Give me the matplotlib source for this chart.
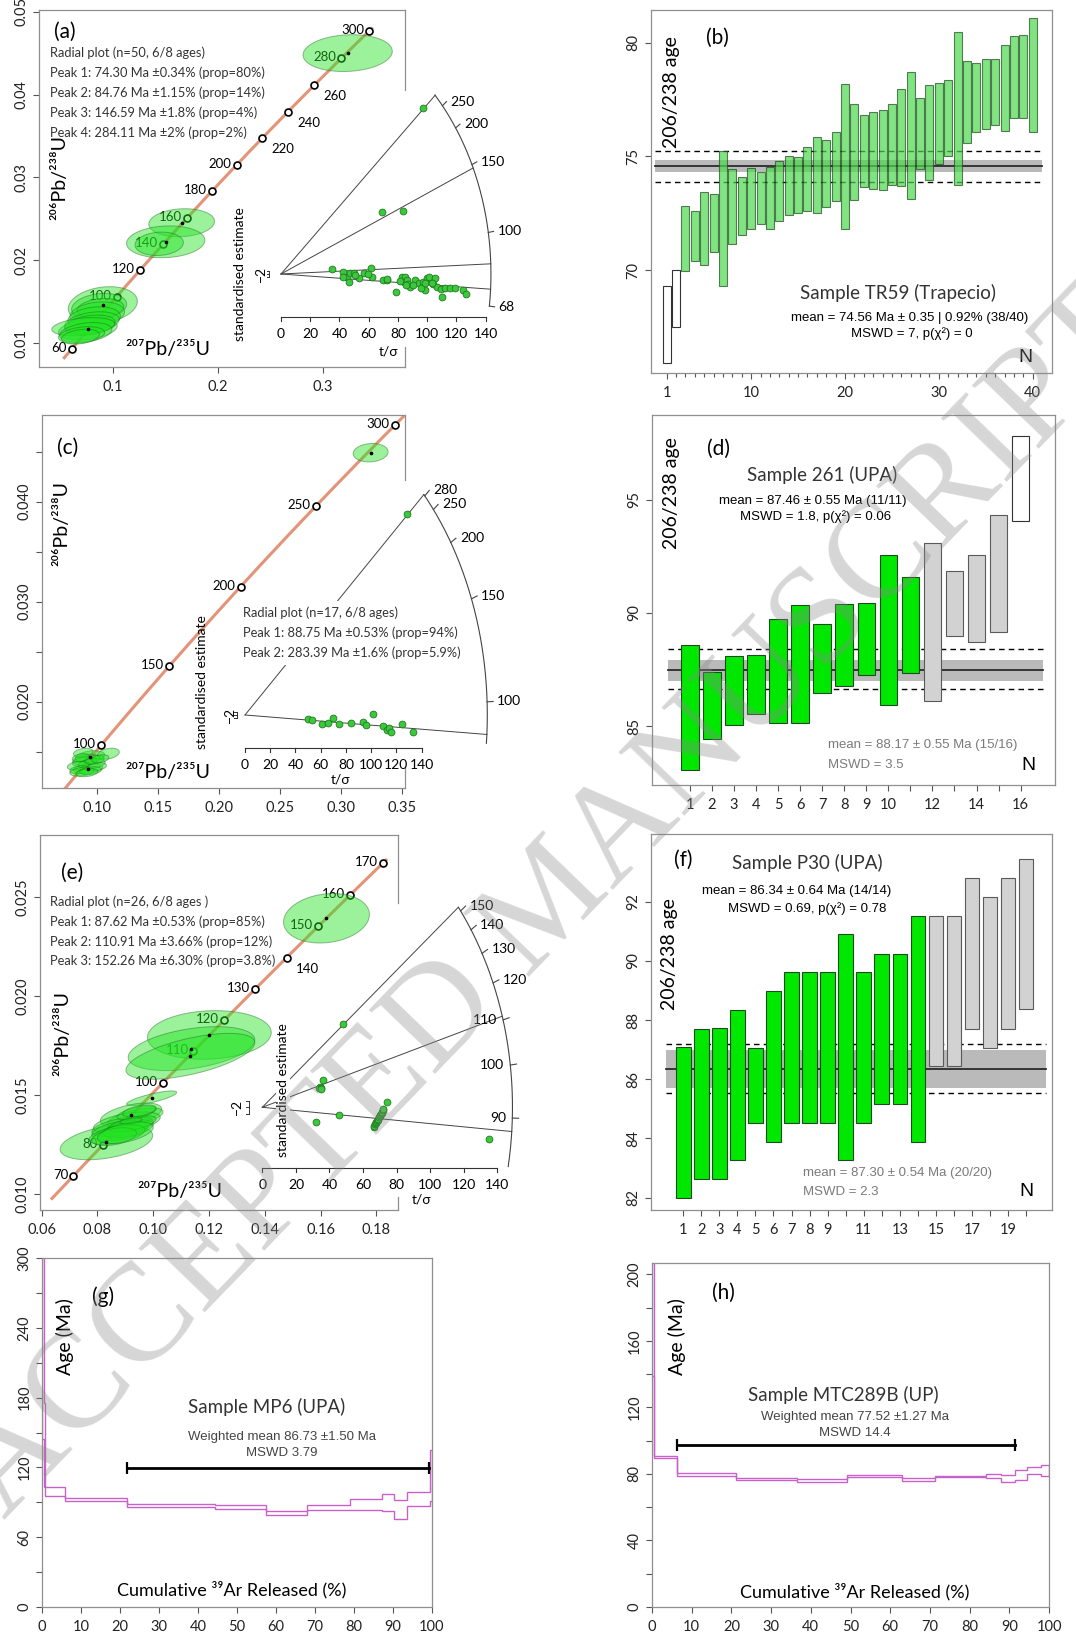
import numpy as np
import matplotlib
matplotlib.use("Agg")
import matplotlib.pyplot as plt
from matplotlib.patches import Polygon

plt.rcParams['font.family'] = ['Lato', 'DejaVu Sans']
ARIAL = ['Liberation Sans', 'DejaVu Sans']
SERIF = ['Liberation Serif', 'DejaVu Serif']

W, H = 1076, 1639

SPINE = '#8f8f8f'
TICK = '#555555'
CONC = '#e39478'
ELL_FC = '#22e422'
ELL_EC = '#1f6b1f'
DOT_FC = '#3cc83c'
DOT_EC = '#1f7a1f'
SPEC = '#c862c8'

# decay constants, 1/Ma
L238 = 1.55125e-4
L235 = 9.8485e-4

# ---------------- (a) TR59 concordia / radial ----------------
a_ages = [60, 100, 120, 140, 160, 180, 200, 220, 240, 260, 280, 300]
a_side = ['l', 'l', 'l', 'l', 'l', 'l', 'l', 'r', 'r', 'r', 'l', 'l']
# ellipses: x, y, half-width x, half-height y, rho
a_ell = [(0.3235, 0.04500, 0.0425, 0.00222, 0.10),
         (0.1654, 0.02454, 0.0313, 0.00169, 0.10),
         (0.1502, 0.02224, 0.0373, 0.00192, 0.10),
         (0.0903, 0.01462, 0.0329, 0.00221, 0.20),
         (0.0760, 0.01170, 0.0280, 0.00130, 0.30),
         (0.1440, 0.02200, 0.0230, 0.00141, 0.10),
         (0.0868, 0.01441, 0.0262, 0.00161, 0.20),
         (0.0880, 0.01420, 0.0222, 0.00120, 0.20),
         (0.0850, 0.01350, 0.0260, 0.00150, 0.20),
         (0.0820, 0.01300, 0.0250, 0.00140, 0.20),
         (0.0800, 0.01250, 0.0260, 0.00130, 0.30),
         (0.0780, 0.01220, 0.0240, 0.00120, 0.30),
         (0.0717, 0.01200, 0.0300, 0.00110, 0.30),
         (0.0740, 0.01130, 0.0250, 0.00120, 0.30),
         (0.0700, 0.01100, 0.0220, 0.00100, 0.30),
         (0.0690, 0.01080, 0.0180, 0.00090, 0.30)]
a_peaks = [74.30, 84.76, 146.59, 284.11]
a_arc_ticks = [68, 100, 150, 200, 250]
a_rx = [34.7, 42.6, 45.4, 46.7, 47.2, 50.2, 53.6, 56.8, 61.3, 62.5,
        70.0, 72.3, 69.3, 83.7, 97.4, 78.4, 82.5, 84.8, 84.1, 86.0,
        87.1, 88.2, 91.7, 94.6, 97.4, 98.5, 99.6, 101.5, 104.2, 105.3,
        106.5, 109.2, 109.9, 112.2, 115.6, 119.0, 124.7, 126.5, 81.4, 85.5,
        90.5, 95.5, 98.5, 103.1, 42.6, 50.6, 59.7, 72.3]
a_ry = [3.5, 1.7, -2.5, -5.7, 1.0, 1.0, -3.2, 1.0, 4.5, -2.0,
        -4.5, -4.5, 46.4, 46.9, 123.3, -13.6, -2.5, -2.0, -5.7, -4.5,
        -7.4, -9.4, -4.5, -6.5, -5.7, -11.9, -3.2, -2.5, -7.4, -3.2,
        -9.4, -11.4, -16.9, -10.7, -10.7, -10.7, -11.9, -14.9, -5.0, -8.2,
        -8.2, -10.7, -6.9, -6.5, -2.0, -0.7, 0.0, -4.0]
a_lines = ['Radial plot (n=50, 6/8 ages)',
           'Peak 1: 74.30 Ma ±0.34% (prop=80%)',
           'Peak 2: 84.76 Ma ±1.15% (prop=14%)',
           'Peak 3: 146.59 Ma ±1.8% (prop=4%)',
           'Peak 4: 284.11 Ma ±2% (prop=2%)']

# ---------------- (c) 261 concordia / radial ----------------
c_ages = [100, 150, 200, 250, 300]
c_side = ['l'] * 5
c_ell = [(0.3241, 0.04490, 0.0143, 0.00092, 0.10),
         (0.0945, 0.01450, 0.0120, 0.00060, 0.30),
         (0.0930, 0.01330, 0.0120, 0.00050, 0.30),
         (0.1095, 0.01480, 0.0090, 0.00055, 0.30),
         (0.0915, 0.01420, 0.0110, 0.00055, 0.30),
         (0.0900, 0.01400, 0.0100, 0.00050, 0.30),
         (0.0890, 0.01490, 0.0080, 0.00045, 0.30),
         (0.0960, 0.01380, 0.0110, 0.00050, 0.30),
         (0.0850, 0.01360, 0.0090, 0.00045, 0.30),
         (0.0860, 0.01320, 0.0080, 0.00040, 0.30),
         (0.1000, 0.01350, 0.0080, 0.00040, 0.30),
         (0.0980, 0.01420, 0.0080, 0.00045, 0.30),
         (0.0880, 0.01300, 0.0100, 0.00045, 0.30),
         (0.0950, 0.01310, 0.0090, 0.00040, 0.30),
         (0.0920, 0.01290, 0.0090, 0.00040, 0.30),
         (0.1030, 0.01430, 0.0070, 0.00040, 0.30),
         (0.0870, 0.01440, 0.0070, 0.00040, 0.30)]
c_peaks = [88.75, 283.39]
c_arc_ticks = [100, 150, 200, 250, 280]
c_rx = [128.6, 50.2, 52.8, 60.8, 66.0, 70.0, 74.7, 83.7, 93.8, 95.6,
        101.2, 109.6, 112.3, 114.4, 115.4, 124.1, 132.9]
c_ry = [140.8, -3.0, -3.5, -6.3, -5.4, -2.3, -6.3, -5.4, -4.7, -7.0,
        0.7, -7.5, -10.5, -9.3, -12.1, -6.3, -12.1]
c_lines = ['Radial plot (n=17, 6/8 ages)',
           'Peak 1: 88.75 Ma ±0.53% (prop=94%)',
           'Peak 2: 283.39 Ma ±1.6% (prop=5.9%)']

# ---------------- (e) P30 concordia / radial ----------------
e_ages = [70, 80, 100, 110, 120, 130, 140, 150, 160, 170]
e_side = ['l', 'l', 'l', 'l', 'l', 'l', 'r', 'l', 'l', 'l']
e_ell = [(0.1621, 0.02394, 0.0154, 0.00125, 0.15),
         (0.1201, 0.01804, 0.0222, 0.00123, 0.10),
         (0.1137, 0.01735, 0.0227, 0.00111, 0.40),
         (0.0994, 0.01484, 0.0090, 0.00037, 0.80),
         (0.0832, 0.01261, 0.0166, 0.00088, 0.40),
         (0.1133, 0.01696, 0.0231, 0.00116, 0.60),
         (0.0920, 0.01400, 0.0110, 0.00060, 0.50),
         (0.0935, 0.01385, 0.0100, 0.00050, 0.60),
         (0.0905, 0.01360, 0.0120, 0.00055, 0.50),
         (0.0890, 0.01340, 0.0110, 0.00050, 0.50),
         (0.0880, 0.01320, 0.0100, 0.00050, 0.40),
         (0.0910, 0.01330, 0.0090, 0.00045, 0.50),
         (0.0925, 0.01355, 0.0085, 0.00040, 0.60),
         (0.0870, 0.01300, 0.0100, 0.00050, 0.50),
         (0.0940, 0.01410, 0.0070, 0.00035, 0.60),
         (0.0860, 0.01290, 0.0080, 0.00045, 0.40),
         (0.0900, 0.01310, 0.0100, 0.00055, 0.50),
         (0.0950, 0.01420, 0.0060, 0.00030, 0.50),
         (0.0920, 0.01370, 0.0040, 0.00015, 0.50)]
e_peaks = [87.62, 110.91, 152.26]
e_arc_ticks = [90, 100, 110, 120, 130, 140, 150]
e_rx = [48.3, 35.9, 34.4, 34.0, 34.9, 34.7, 45.9, 32.0, 74.1, 135.2,
        66.5, 66.8, 67.1, 67.5, 67.9, 68.3, 68.7, 69.1, 69.5, 69.9,
        70.3, 70.7, 71.1, 71.5, 71.8, 72.1]
e_ry = [24.6, 8.1, 6.1, 5.6, 5.8, 5.3, -2.3, -4.2, 1.7, -9.4,
        -5.7, -5.4, -5.0, -4.7, -4.3, -4.0, -3.7, -3.3, -3.0, -2.6,
        -2.3, -1.9, -1.6, -1.3, -0.9, -0.6]
e_lines = ['Radial plot (n=26, 6/8 ages )',
           'Peak 1: 87.62 Ma ±0.53% (prop=85%)',
           'Peak 2: 110.91 Ma ±3.66% (prop=12%)',
           'Peak 3: 152.26 Ma ±6.30% (prop=3.8%)']

# ---------------- weighted mean bar panels ----------------
b_lo = [65.92, 67.48, 69.96, 70.38, 70.21, 70.78, 69.30, 71.13, 71.55, 71.82,
        72.02, 71.82, 72.17, 72.43, 72.52, 72.60, 72.52, 72.76, 73.04, 71.79,
        73.08, 73.64, 73.55, 73.52, 73.74, 73.71, 73.14, 74.43, 73.96, 74.65,
        75.01, 73.72, 75.60, 76.07, 76.19, 76.38, 76.13, 76.70, 76.67, 76.07]
b_hi = [69.31, 69.99, 72.83, 72.61, 73.43, 73.34, 75.23, 74.46, 74.11, 74.50,
        74.33, 74.55, 74.81, 75.00, 74.96, 75.40, 75.84, 75.70, 76.09, 78.18,
        77.29, 76.80, 76.95, 77.04, 77.29, 77.98, 78.72, 77.55, 78.14, 78.24,
        78.36, 80.48, 79.21, 79.09, 79.30, 79.30, 79.88, 80.29, 80.35, 81.07]
b_kind = ['out'] * 2 + ['ok'] * 38
b_mean, b_band, b_dash = 74.56, 0.26, (73.87, 75.25)

d_lo = [83.04, 84.44, 85.03, 85.51, 85.13, 85.15, 86.47, 86.76, 87.24, 85.91,
        87.35, 86.10, 89.00, 88.72, 89.15, 94.07]
d_hi = [88.59, 87.38, 88.09, 88.12, 89.75, 90.37, 89.51, 90.41, 90.44, 92.57,
        91.59, 93.09, 91.88, 92.56, 94.32, 97.82]
d_kind = ['ok'] * 11 + ['rej'] * 4 + ['out']
d_mean, d_band, d_dash = 87.46, 0.47, (86.62, 88.41)

f_lo = [82.00, 82.62, 82.64, 83.26, 84.53, 83.88, 84.53, 84.53, 84.53, 83.26,
        84.53, 85.16, 85.16, 83.88, 86.45, 86.45, 87.71, 87.07, 87.71, 88.36]
f_hi = [87.10, 87.71, 87.73, 88.35, 87.07, 88.97, 89.61, 89.61, 89.61, 90.90,
        89.61, 90.25, 90.25, 91.53, 91.53, 91.53, 92.79, 92.15, 92.79, 93.43]
f_kind = ['ok'] * 14 + ['rej'] * 6
f_mean, f_band, f_dash = 86.34, 0.64, (85.52, 87.18)

# ---------------- Ar-Ar age spectra ----------------
g_edges = [0, 0.4, 0.8, 5.8, 21.8, 44.3, 57.5, 68.0, 79.1, 87.2, 90.3, 93.6, 99.4, 100]
g_hi = [400, 175, 103.2, 93.7, 88.5, 87.4, 82.2, 87.4, 92.8, 97.1, 92.3, 98.9, 134.7]
g_lo = [144, 103, 95.7, 90.8, 86.0, 84.2, 79.1, 83.1, 83.4, 82.2, 75.6, 86.5, 90.8]
g_plateau = (21.8, 99.3, 119.5)

h_edges = [0, 0.4, 0.6, 6.3, 21.2, 36.6, 49.1, 62.9, 71.2, 84.2, 88.0, 91.5, 94.5, 98.1, 100]
h_hi = [260, 139, 90.9, 80.5, 77.7, 76.9, 79.5, 77.5, 78.9, 79.9, 79.5, 82.5, 83.9, 85.1]
h_lo = [139, 120, 89.5, 78.9, 76.5, 75.3, 78.1, 75.5, 77.9, 77.5, 75.1, 76.5, 79.9, 78.9]
h_plateau = (6.2, 91.4, 97.1)


fig = plt.figure(figsize=(W / 100, H / 100), dpi=100)


def frame(l, t, r, b):
    return fig.add_axes([l / W, 1 - b / H, (r - l) / W, (b - t) / H])


def put(x, y, s, **kw):
    return fig.text(x / W, 1 - y / H, s, **kw)


def style(ax, xt, xl, yt, yl, xminor=None):
    for sp in ax.spines.values():
        sp.set_color(SPINE)
        sp.set_linewidth(0.9)
    ax.set_xticks(xt, xl)
    ax.set_yticks(yt, yl, rotation=90, va='center')
    ax.tick_params(length=4.5, width=0.8, color=TICK, labelsize=10.5, labelcolor='#222222')
    ax.tick_params(axis='x', pad=5)
    ax.tick_params(axis='y', pad=3)
    if xminor is not None:
        ax.set_xticks(xminor, minor=True)
        ax.tick_params(which='minor', length=3, width=0.8, color=TICK)


def partial_right(ax, segs):
    ax.spines['right'].set_visible(False)
    for y0, y1 in segs:
        ax.plot([1, 1], [y0, y1], transform=ax.transAxes, color=SPINE, lw=0.9, clip_on=False)


def concordia(ax, span, ages, sides, ells, n_dots=5):
    t = np.linspace(span[0], span[1], 300)
    ax.plot(np.expm1(L235 * t), np.expm1(L238 * t), color=CONC, lw=2.2, zorder=2)
    for age, side in zip(ages, sides):
        x, y = np.expm1(L235 * age), np.expm1(L238 * age)
        ax.plot(x, y, 'o', ms=5, mfc='white', mec='black', mew=1.2, zorder=3)
        if side == 'l':
            ax.annotate(str(age), (x, y), xytext=(-5, 1), textcoords='offset pixels',
                        ha='right', va='center', fontsize=9.5, zorder=3)
        else:
            ax.annotate(str(age), (x, y), xytext=(9, -11), textcoords='offset pixels',
                        ha='left', va='center', fontsize=9.5, zorder=3)
    tt = np.linspace(0, 2 * np.pi, 120)
    for i, (x0, y0, sx, sy, rho) in enumerate(ells):
        xs = x0 + sx * np.cos(tt)
        ys = y0 + sy * (rho * np.cos(tt) + np.sqrt(1 - rho ** 2) * np.sin(tt))
        ax.add_patch(Polygon(np.column_stack([xs, ys]), closed=True, fc=ELL_FC, ec=ELL_EC,
                             lw=0.7, alpha=0.45, zorder=4))
        if i < n_dots:
            ax.plot(x0, y0, 'o', ms=1.6, color='black', zorder=5)


def radial(rect, origin, sx, sy, z0, a, b, t_lim, peaks, ticks, inner, px, py,
           axis_y, tsig, std, minus_x, bracket_x, std_bg=False):
    l, t, r, bt = rect
    ox, oy = origin
    ax = frame(l, t, r, bt)
    ax.set_xlim((l - ox) / sx, (r - ox) / sx)
    ax.set_ylim((oy - bt) / sy, (oy - t) / sy)
    ax.set_axis_off()

    def arc(age):
        s = np.log(age) - z0
        x = 1 / np.sqrt(1 / a ** 2 + s ** 2 / b ** 2)
        return x, s * x

    xa, ya = arc(np.geomspace(t_lim[0], t_lim[1], 200))
    ax.plot(xa, ya, color='#444444', lw=0.8)
    for p in peaks:
        x, y = arc(p)
        ax.plot([0, x], [0, y], color='#444444', lw=0.7, zorder=1)
    for tk in ticks:
        x, y = arc(tk)
        ax.plot([x, 1.025 * x], [y, 1.025 * y], color='#444444', lw=0.8)
        if tk in inner:
            ax.annotate(str(tk), (x, y), xytext=(-6, 0), textcoords='offset pixels',
                        ha='right', va='center', fontsize=10)
        else:
            ax.annotate(str(tk), (1.025 * x, 1.025 * y), xytext=(4, 0), textcoords='offset pixels',
                        ha='left', va='center', fontsize=10)
    ax.scatter(px, py, s=24, c=DOT_FC, edgecolors=DOT_EC, linewidths=0.6, zorder=3)

    # t/sigma axis
    ax.plot([0, 140], [axis_y, axis_y], color='#333333', lw=0.8)
    for v in range(0, 141, 20):
        ax.plot([v, v], [axis_y, axis_y - 4 / sy], color='#333333', lw=0.8)
        ax.annotate(str(v), (v, axis_y), xytext=(0, -17), textcoords='offset pixels',
                    ha='center', va='center', fontsize=10)
    ax.text(tsig[0], tsig[1], 't/σ', ha='center', va='center', fontsize=10)
    bg = dict(fc='white', ec='none', pad=1) if std_bg else None
    ax.text(std[0], std[1], 'standardised estimate', rotation=90, ha='center', va='center',
            fontsize=10, bbox=bg, zorder=2)
    ax.text(minus_x, 0, '−2', rotation=90, ha='center', va='center', fontsize=10)
    ax.plot([bracket_x, bracket_x], [-2, 2], color='#333333', lw=0.7)
    for v in (-2, 0, 2):
        ax.plot([bracket_x - 2.5 / sx, bracket_x], [v, v], color='#333333', lw=0.7)
    return ax


def bars(ax, lo, hi, kinds, width, green, alpha=1.0):
    n = np.arange(1, len(lo) + 1)
    lo = np.asarray(lo)
    hi = np.asarray(hi)
    fc = {'ok': green, 'rej': '#d2d2d2', 'out': 'white'}
    ec = {'ok': '#1f4a1f', 'rej': '#5a5a5a', 'out': '#333333'}
    for i, k in enumerate(kinds):
        ax.bar(n[i], hi[i] - lo[i], bottom=lo[i], width=width, color=fc[k], edgecolor=ec[k],
               lw=0.8, alpha=alpha if k == 'ok' else 1.0, zorder=3)


def mean_lines(ax, mean, band, dash, x0, x1):
    ax.axhspan(mean - band, mean + band, x0, x1, color='#bababa', lw=0, zorder=1)
    ax.axhline(mean, x0, x1, color='#2a2a2a', lw=1.3, zorder=2)
    for d in dash:
        ax.axhline(d, x0, x1, color='black', lw=1.0, ls=(0, (4, 3)), zorder=2)


def spectrum(ax, edges, lo, hi, plateau):
    ax.stairs(hi, edges, baseline=None, color=SPEC, lw=1.0, zorder=2)
    ax.stairs(lo, edges, baseline=None, color=SPEC, lw=1.0, zorder=2)
    ax.vlines([edges[0], edges[-1]], [lo[0], lo[-1]], [hi[0], hi[-1]], color=SPEC, lw=1.0, zorder=2)
    x0, x1, y = plateau
    ax.plot([x0, x1], [y, y], color='black', lw=2, zorder=3)
    ax.plot([x0, x1], [y, y], ls='none', marker='|', ms=8, mew=1.6, color='black', zorder=3)


# ================= (a) =================
ax = frame(39, 10, 405, 367)
ax.set_xlim(0.02952, 0.3781)
ax.set_ylim(0.00714, 0.0502)
style(ax, [0.1, 0.2, 0.3], ['0.1', '0.2', '0.3'],
      [0.01, 0.02, 0.03, 0.04, 0.05], ['0.01', '0.02', '0.03', '0.04', '0.05'])
partial_right(ax, [(0, 0.056), (0.776, 1)])
concordia(ax, (53, 302), a_ages, a_side, a_ell)

radial((200, 80, 520, 360), (281, 274), 1.462, 1.343, 4.387, 143.6, 196.0, (68, 285),
       a_peaks, a_arc_ticks, [], a_rx, a_ry, -31.8, (73.2, -58), (-28, 0), -13.7, -8.2)

put(65, 32, '(a)', fontsize=15, ha='center', va='center')
for i, s in enumerate(a_lines):
    put(50, 53 + 20 * i, s, fontsize=9.3, ha='left', va='center', color='#333333')
put(60, 177, '²⁰⁶Pb/²³⁸U', fontsize=14, rotation=90, ha='center', va='center')
put(168, 350, '²⁰⁷Pb/²³⁵U', fontsize=14, ha='center', va='center')

# ================= (c) =================
ax = frame(42, 415, 405, 788)
ax.set_xlim(0.05525, 0.3522)
ax.set_ylim(0.01137, 0.04867)
style(ax, [0.10, 0.15, 0.20, 0.25, 0.30, 0.35], ['0.10', '0.15', '0.20', '0.25', '0.30', '0.35'],
      [0.015, 0.020, 0.025, 0.030, 0.035, 0.040, 0.045], ['', '0.020', '', '0.030', '', '0.040', ''])
partial_right(ax, [(0, 0.056), (0.826, 1)])
concordia(ax, (55, 306), c_ages, c_side, c_ell, n_dots=3)

radial((180, 470, 520, 800), (245, 715), 1.262, 1.427, 4.557, 192.0, 229.0, (85.9, 283.39),
       c_peaks, c_arc_ticks, [], c_rx, c_ry, -23.3, (75.3, -45.5), (-34.1, 23.1), -11.9, -6.6)

put(68, 448, '(c)', fontsize=15, ha='center', va='center')
for i, s in enumerate(c_lines):
    put(243, 613 + 20 * i, s, fontsize=9.3, ha='left', va='center', color='#333333',
        bbox=dict(fc='white', ec='none', pad=4))
put(62, 523, '²⁰⁶Pb/²³⁸U', fontsize=14, rotation=90, ha='center', va='center')
put(168, 773, '²⁰⁷Pb/²³⁵U', fontsize=14, ha='center', va='center')

# ================= (e) =================
ax = frame(40, 835, 398, 1210)
ax.set_xlim(0.05939, 0.18774)
ax.set_ylim(0.00919, 0.02815)
style(ax, [0.06, 0.08, 0.10, 0.12, 0.14, 0.16, 0.18],
      ['0.06', '0.08', '0.10', '0.12', '0.14', '0.16', '0.18'],
      [0.010, 0.015, 0.020, 0.025], ['0.010', '0.015', '0.020', '0.025'])
partial_right(ax, [(0, 0.035), (0.819, 1)])
concordia(ax, (62.7, 171), e_ages, e_side, e_ell, n_dots=7)

radial((220, 880, 560, 1215), (262.3, 1107.3), 1.679, 3.395, 4.521, 149.0, 94.9, (81.6, 152.26),
       e_peaks, e_arc_ticks, [90, 100, 110], e_rx, e_ry, -17.9, (95, -27.3), (12.3, 5.1), -15, -8.2,
       std_bg=True)

put(72, 873, '(e)', fontsize=15, ha='center', va='center')
for i, s in enumerate(e_lines):
    put(50, 902 + 19.7 * i, s, fontsize=9.3, ha='left', va='center', color='#333333')
put(63, 1033, '²⁰⁶Pb/²³⁸U', fontsize=14, rotation=90, ha='center', va='center')
put(180, 1192, '²⁰⁷Pb/²³⁵U', fontsize=14, ha='center', va='center')

# ================= (b) =================
ax = frame(651, 10, 1052, 373)
ax.set_xlim(-0.673, 42.06)
ax.set_ylim(65.47, 81.44)
style(ax, [1, 10, 20, 30, 40], ['1', '10', '20', '30', '40'], [70, 75, 80], ['70', '75', '80'],
      xminor=range(1, 41))
mean_lines(ax, b_mean, b_band, b_dash, 0.01, 0.975)
bars(ax, b_lo, b_hi, b_kind, 0.85, '#4cd84c', alpha=0.7)

put(717, 38, '(b)', fontsize=15, ha='center', va='center')
put(672, 92, '206/238 age', fontsize=14, rotation=90, ha='center', va='center')
put(898, 293, 'Sample TR59 (Trapecio)', fontsize=13.5, ha='center', va='center', color='#333333')
put(910, 318, 'mean = 74.56 Ma ± 0.35 | 0.92% (38/40)', family=ARIAL, fontsize=9.5,
    ha='center', va='center')
put(912, 334, 'MSWD = 7, p(χ²) = 0', family=ARIAL, fontsize=9.5, ha='center', va='center')
put(1025, 357, 'N', family=ARIAL, fontsize=14, ha='center', va='center')

# ================= (d) =================
ax = frame(652, 415, 1055, 785)
ax.set_xlim(-0.724, 17.56)
ax.set_ylim(82.39, 98.76)
style(ax, range(1, 17), [str(i) if (i <= 10 or i % 2 == 0) else '' for i in range(1, 17)],
      [85, 90, 95], ['85', '90', '95'])
mean_lines(ax, d_mean, d_band, d_dash, 0.04, 0.97)
bars(ax, d_lo, d_hi, d_kind, 0.8, '#00e800')

put(718, 449, '(d)', fontsize=15, ha='center', va='center')
put(672, 493, '206/238 age', fontsize=14, rotation=90, ha='center', va='center')
put(822, 475, 'Sample 261 (UPA)', fontsize=13.5, ha='center', va='center', color='#333333')
put(813, 501, 'mean = 87.46 ± 0.55 Ma (11/11)', family=ARIAL, fontsize=9.5, ha='center', va='center')
put(816, 517, 'MSWD = 1.8, p(χ²) = 0.06', family=ARIAL, fontsize=9.5, ha='center', va='center')
put(828, 745, 'mean = 88.17 ± 0.55 Ma (15/16)', family=ARIAL, fontsize=9.5, ha='left', va='center',
    color='#7a7a7a')
put(828, 765, 'MSWD = 3.5', family=ARIAL, fontsize=9.5, ha='left', va='center', color='#7a7a7a')
put(1028, 766, 'N', family=ARIAL, fontsize=14, ha='center', va='center')

# ================= (f) =================
ax = frame(651, 834, 1052, 1210)
ax.set_xlim(-0.79, 21.44)
ax.set_ylim(81.58, 94.29)
style(ax, range(1, 21), [str(i) if (i <= 9 or i % 2 == 1) else '' for i in range(1, 21)],
      [82, 84, 86, 88, 90, 92], ['82', '84', '86', '88', '90', '92'])
mean_lines(ax, f_mean, f_band, f_dash, 0.037, 0.985)
bars(ax, f_lo, f_hi, f_kind, 0.8, '#00e800')

put(683, 860, '(f)', fontsize=15, ha='center', va='center')
put(807, 863, 'Sample P30 (UPA)', fontsize=13.5, ha='center', va='center', color='#333333')
put(797, 891, 'mean = 86.34 ± 0.64 Ma (14/14)', family=ARIAL, fontsize=9.5, ha='center', va='center')
put(807, 909, 'MSWD = 0.69, p(χ²) = 0.78', family=ARIAL, fontsize=9.5, ha='center', va='center')
put(670, 954, '206/238 age', fontsize=14, rotation=90, ha='center', va='center')
put(803, 1173, 'mean = 87.30 ± 0.54 Ma (20/20)', family=ARIAL, fontsize=9.5, ha='left', va='center',
    color='#7a7a7a')
put(803, 1192, 'MSWD = 2.3', family=ARIAL, fontsize=9.5, ha='left', va='center', color='#7a7a7a')
put(1026, 1192, 'N', family=ARIAL, fontsize=14, ha='center', va='center')

# ================= (g) =================
ax = frame(42, 1258, 432, 1607)
ax.set_xlim(0, 100)
ax.set_ylim(0, 300)
style(ax, range(0, 101, 10), [str(v) for v in range(0, 101, 10)],
      range(0, 301, 30), [str(v) if v % 60 == 0 else '' for v in range(0, 301, 30)])
spectrum(ax, g_edges, g_lo, g_hi, g_plateau)

put(103, 1297, '(g)', fontsize=15, ha='center', va='center')
put(65, 1337, 'Age (Ma)', fontsize=14, rotation=90, ha='center', va='center')
put(267, 1407, 'Sample MP6 (UPA)', fontsize=13.5, ha='center', va='center', color='#333333')
put(282, 1437, 'Weighted mean 86.73 ±1.50 Ma', family=ARIAL, fontsize=9.5, ha='center', va='center',
    color='#444444')
put(282, 1453, 'MSWD 3.79', family=ARIAL, fontsize=9.5, ha='center', va='center', color='#444444')
put(232, 1590, 'Cumulative ³⁹Ar Released (%)', fontsize=13, ha='center', va='center')

# ================= (h) =================
ax = frame(652, 1263, 1049, 1607)
ax.set_xlim(0, 100)
ax.set_ylim(0, 206.8)
style(ax, range(0, 101, 10), [str(v) for v in range(0, 101, 10)],
      range(0, 201, 20), [str(v) if v % 40 == 0 else '' for v in range(0, 201, 20)])
spectrum(ax, h_edges, h_lo, h_hi, h_plateau)

put(723, 1293, '(h)', fontsize=15, ha='center', va='center')
put(677, 1337, 'Age (Ma)', fontsize=14, rotation=90, ha='center', va='center')
put(843, 1395, 'Sample MTC289B (UP)', fontsize=13.5, ha='center', va='center', color='#333333')
put(855, 1417, 'Weighted mean 77.52 ±1.27 Ma', family=ARIAL, fontsize=9.5, ha='center', va='center',
    color='#444444')
put(855, 1433, 'MSWD 14.4', family=ARIAL, fontsize=9.5, ha='center', va='center', color='#444444')
put(855, 1592, 'Cumulative ³⁹Ar Released (%)', fontsize=13, ha='center', va='center')

# watermark
put(552, 905, 'ACCEPTED MANUSCRIPT', family=SERIF, fontsize=100, color='#8a8a8a', alpha=0.35,
    rotation=46, rotation_mode='anchor', ha='center', va='center', zorder=100)

fig.savefig('out.png', dpi=100)
